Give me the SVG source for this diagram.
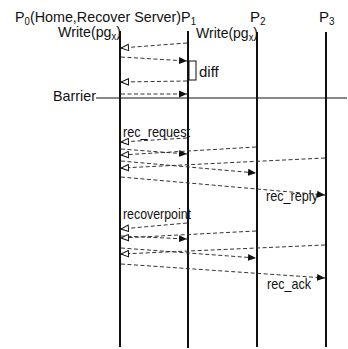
<svg xmlns="http://www.w3.org/2000/svg" width="348" height="349" viewBox="0 0 348 349">
<style>
text{font-family:"Liberation Sans",Arial,sans-serif;font-size:15px;fill:#111}
.sub{font-size:10px}
.life{stroke:#111;stroke-width:2;fill:none}
.msg{stroke:#333;stroke-width:1;stroke-dasharray:4 2.5;fill:none}
.fill{marker-end:url(#af)}
.open{marker-end:url(#ao)}
</style>
<defs>
<marker id="af" markerUnits="userSpaceOnUse" markerWidth="9" markerHeight="8" refX="8" refY="4" orient="auto">
<path d="M0,0.5 L8,4 L0,7.5 z" fill="#111"/>
</marker>
<marker id="ao" markerUnits="userSpaceOnUse" markerWidth="9" markerHeight="8" refX="8" refY="4" orient="auto">
<path d="M0.5,0.8 L8,4 L0.5,7.2 z" fill="#fff" stroke="#111" stroke-width="1"/>
</marker>
</defs>
<g id="labels">
<text x="15" y="22" textLength="181" lengthAdjust="spacingAndGlyphs">P<tspan class="sub" dy="3">0</tspan><tspan dy="-3">(Home,Recover Server)P</tspan><tspan class="sub" dy="3">1</tspan></text>
<text x="250" y="22">P<tspan class="sub" dy="3">2</tspan></text>
<text x="319" y="22">P<tspan class="sub" dy="3">3</tspan></text>
<text x="58" y="37" textLength="63" lengthAdjust="spacingAndGlyphs">Write(pg<tspan class="sub" dy="3">x</tspan><tspan dy="-3">)</tspan></text>
<text x="196" y="38" textLength="62" lengthAdjust="spacingAndGlyphs">Write(pg<tspan class="sub" dy="3">x</tspan><tspan dy="-3">)</tspan></text>
<text x="199" y="77">diff</text>
<text x="53" y="101" textLength="43" lengthAdjust="spacingAndGlyphs">Barrier</text>
<text x="123" y="137" textLength="67" lengthAdjust="spacingAndGlyphs">rec_request</text>
<text x="266" y="201" textLength="52" lengthAdjust="spacingAndGlyphs">rec_reply</text>
<text x="123" y="219" textLength="68" lengthAdjust="spacingAndGlyphs">recoverpoint</text>
<text x="267" y="289" textLength="44" lengthAdjust="spacingAndGlyphs">rec_ack</text>
</g>
<g id="P0"><line class="life" x1="120" y1="31" x2="120" y2="347"/></g>
<g id="P1"><line class="life" x1="188" y1="31" x2="188" y2="348"/></g>
<g id="P2"><line class="life" x1="257" y1="32" x2="257" y2="347"/></g>
<g id="P3"><line class="life" x1="326" y1="32" x2="326" y2="347"/></g>
<g id="barrier"><line x1="96" y1="98" x2="347" y2="98" stroke="#111" stroke-width="1"/></g>
<g id="diff"><rect x="189" y="61" width="7" height="19" fill="none" stroke="#111" stroke-width="1"/></g>
<g id="connectors">
<line class="msg open" x1="187" y1="43" x2="121" y2="48"/>
<line class="msg fill" x1="121" y1="57" x2="187" y2="61"/>
<line class="msg open" x1="187" y1="81" x2="121" y2="82"/>
<line class="msg fill" x1="121" y1="94" x2="187" y2="94"/>

<line class="msg open" x1="187" y1="138" x2="121" y2="142"/>
<line class="msg fill" x1="121" y1="149" x2="187" y2="154"/>
<line class="msg open" x1="256" y1="147" x2="121" y2="155"/>
<line class="msg open" x1="325" y1="158" x2="121" y2="168"/>
<line class="msg fill" x1="121" y1="161" x2="256" y2="173"/>
<line class="msg fill" x1="121" y1="177" x2="325" y2="195"/>

<line class="msg open" x1="187" y1="223" x2="121" y2="229"/>
<line class="msg fill" x1="121" y1="236" x2="187" y2="239"/>
<line class="msg open" x1="256" y1="231" x2="121" y2="238"/>
<line class="msg open" x1="325" y1="245" x2="121" y2="254"/>
<line class="msg fill" x1="121" y1="248" x2="256" y2="258"/>
<line class="msg fill" x1="121" y1="264" x2="325" y2="278"/>
</g>
</svg>
